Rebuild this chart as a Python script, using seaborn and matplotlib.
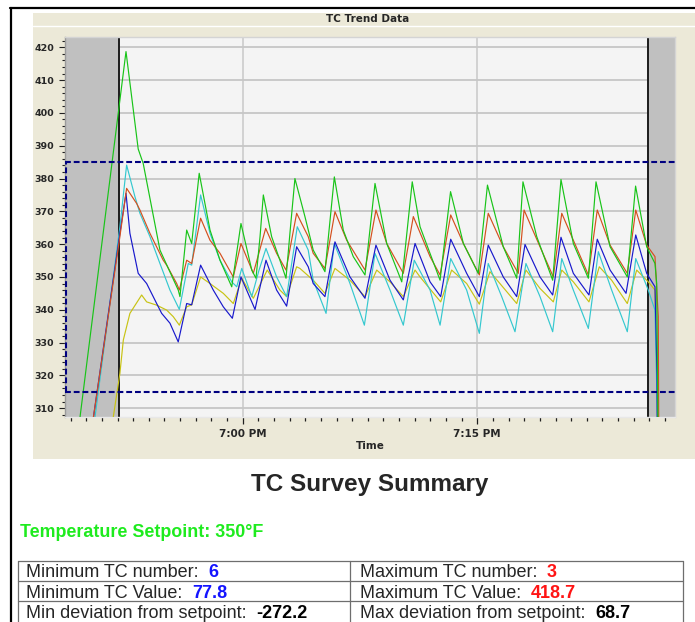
import matplotlib
matplotlib.use("Agg")
import matplotlib.pyplot as plt
from matplotlib.lines import Line2D
from matplotlib.patches import Rectangle
from matplotlib.ticker import FixedLocator, MultipleLocator
from matplotlib import font_manager
import pandas as pd
import seaborn as sns

# ---- thermocouple readings: minutes after 6:45 PM, temperature in °F ----
tc3_time = [3.96, 7.54, 8.32, 8.64, 9.71, 10.88, 10.99, 11.42, 11.74, 12.22, 12.91, 13.55, 14.30, 14.89,
            15.58, 15.85, 16.11, 16.32, 16.85, 17.38, 17.77, 18.02, 18.34, 18.98, 19.51, 20.26, 20.86,
            21.43, 22.07, 22.82, 23.46, 24.21, 25.17, 25.84, 26.34, 27.62, 28.29, 29.11, 30.06, 30.65,
            31.66, 32.52, 32.92, 33.80, 34.82, 35.35, 36.14, 37.10, 37.59, 38.49, 39.59, 40.12, 40.83,
            41.36, 41.47, 41.81]
tc3_temp = [283, 418.7, 389.0, 384.6, 358.2, 346.0, 344.0, 364.3, 360.2, 381.6, 364.3, 355.1, 347.0, 366.3,
            352.1, 349.6, 362.3, 375.0, 362.3, 355.1, 349.6, 363.3, 380.0, 368.4, 358.2, 351.6, 380.5,
            364.3, 356.2, 350.6, 378.5, 360.2, 348.5, 379.0, 365.3, 349.0, 376.0, 360.2, 351.1, 378.0,
            359.2, 349.6, 379.0, 362.3, 349.0, 379.7, 360.2, 349.6, 379.0, 359.2, 350.0, 377.7, 359.2,
            354.1, 348.0, 160.0]

tc1_time = [4.60, 5.45, 7.15, 7.58, 8.22, 8.43, 9.07, 9.92, 10.14, 10.78, 10.95, 11.42, 11.74, 11.95,
            12.31, 12.91, 13.55, 14.40, 14.89, 15.68, 16.47, 17.17, 17.77, 18.45, 19.19, 19.51, 20.26,
            20.90, 21.65, 22.82, 23.52, 24.21, 25.27, 25.91, 26.98, 27.62, 28.30, 29.11, 30.13, 30.70,
            31.66, 32.62, 32.99, 34.01, 34.86, 35.40, 36.14, 37.10, 37.67, 38.49, 39.59, 40.13, 40.83,
            41.36, 41.57, 41.75]
tc1_temp = [279, 307, 362.3, 377.0, 372.4, 370.4, 363.3, 355.1, 353.6, 348.0, 346.0, 355.1, 354.1, 359.2,
            367.9, 361.2, 357.2, 350.0, 360.2, 351.1, 364.8, 357.2, 352.1, 369.4, 362.3, 357.2, 352.6,
            369.9, 361.2, 352.1, 370.4, 360.2, 351.1, 368.4, 356.2, 350.6, 368.9, 360.2, 350.6, 369.4,
            359.2, 351.1, 370.4, 359.2, 350.0, 369.4, 361.2, 350.6, 370.4, 359.7, 351.1, 370.4, 359.7,
            356.2, 337.9, 140.0]

tc2_time = [4.72, 5.56, 7.15, 7.58, 8.11, 8.43, 9.07, 9.71, 10.35, 10.95, 11.52, 11.74, 12.31, 12.91,
            13.55, 14.30, 14.62, 14.94, 15.58, 16.04, 16.49, 17.17, 17.81, 18.49, 19.19, 19.51, 20.33,
            20.86, 21.86, 22.78, 23.46, 24.42, 25.27, 25.97, 26.98, 27.62, 28.30, 29.32, 30.13, 30.70,
            31.56, 32.41, 33.11, 34.01, 34.82, 35.40, 36.14, 37.10, 37.74, 38.59, 39.59, 40.13, 40.93,
            41.36, 41.55, 41.68]
tc2_temp = [276, 307.4, 365.3, 384.1, 374.5, 369.4, 362.3, 354.1, 346.0, 340.1, 354.1, 353.6, 375.0, 363.3,
            355.1, 348.5, 347.0, 352.6, 344.0, 352.0, 358.7, 350.0, 344.0, 365.3, 358.2, 349.0, 338.9,
            360.2, 348.0, 335.3, 357.2, 346.0, 335.3, 355.1, 346.0, 335.3, 355.6, 346.0, 332.8, 354.1,
            344.0, 333.3, 354.1, 344.0, 333.3, 355.6, 346.0, 334.3, 357.7, 346.0, 333.3, 355.6, 346.0,
            339.9, 300.0, 110.0]

tc6_time = [4.60, 5.45, 7.15, 7.54, 7.79, 8.32, 8.86, 9.50, 9.82, 10.35, 10.88, 11.42, 11.74, 12.31,
            13.12, 13.76, 14.34, 14.89, 15.79, 16.49, 17.17, 17.81, 18.45, 19.19, 19.51, 20.26, 20.90,
            21.86, 22.82, 23.52, 24.42, 25.27, 26.02, 26.98, 27.66, 28.30, 29.32, 30.13, 30.70, 31.66,
            32.52, 33.05, 34.01, 34.82, 35.35, 36.14, 37.14, 37.67, 38.49, 39.51, 40.13, 40.83, 41.36,
            41.49, 41.70]
tc6_temp = [280, 307, 363.3, 375.5, 363.3, 351.1, 348.0, 341.9, 338.9, 335.9, 330.2, 341.9, 341.5, 353.6,
            346.0, 340.9, 337.4, 350.0, 340.1, 355.1, 346.0, 341.1, 359.2, 353.1, 348.0, 344.0, 360.7,
            350.0, 343.5, 359.7, 349.0, 343.0, 360.2, 348.5, 344.0, 361.5, 351.1, 344.0, 359.7, 350.0,
            344.0, 359.9, 350.0, 344.5, 362.1, 351.1, 344.5, 361.5, 352.1, 345.0, 362.8, 351.1, 347.0,
            320.0, 77.8]

tc4_time = [6.26, 6.73, 7.15, 7.37, 7.79, 8.54, 8.86, 9.50, 10.14, 10.56, 10.95, 11.42, 11.74, 12.31,
            12.91, 13.76, 14.40, 14.94, 15.68, 16.57, 17.38, 17.81, 18.45, 18.66, 19.51, 20.26, 20.90,
            21.86, 22.82, 23.57, 24.42, 25.27, 26.02, 26.34, 27.66, 28.36, 29.32, 30.13, 30.81, 32.52,
            33.11, 34.01, 34.86, 35.40, 36.14, 37.14, 37.80, 38.59, 39.59, 40.19, 40.93, 41.36, 41.55,
            41.68]
tc4_temp = [293, 307.4, 320.6, 330.8, 338.9, 344.5, 342.4, 341.4, 339.9, 337.9, 335.3, 340.9, 341.5, 350.0,
            348.0, 345.0, 341.9, 349.6, 343.5, 352.1, 346.0, 344.0, 353.1, 352.6, 349.0, 345.0, 352.6,
            349.0, 344.0, 352.1, 348.5, 344.0, 352.1, 350.0, 342.4, 352.1, 348.0, 341.7, 351.6, 341.9,
            352.1, 346.5, 342.4, 352.1, 348.5, 342.4, 353.1, 349.0, 341.9, 352.1, 348.5, 346.0, 300.0,
            130.0]

series = {
    "TC 4": (tc4_time, tc4_temp),
    "TC 2": (tc2_time, tc2_temp),
    "TC 6": (tc6_time, tc6_temp),
    "TC 1": (tc1_time, tc1_temp),
    "TC 3": (tc3_time, tc3_temp),
}
palette = {"TC 4": "#c8c314", "TC 2": "#34c8cf", "TC 6": "#1818cc",
           "TC 1": "#d4501e", "TC 3": "#18c418"}

SETPOINT = 350.0
TOLERANCE = 35.0
soak_window = (7.1, 40.93)
x_limits = (3.64, 42.64)
y_limits = (307.4, 423.05)
y_ticks = list(range(310, 421, 10))
x_tick_minutes = [15, 30]
x_tick_labels = ["7:00 PM", "7:15 PM"]

rows = []
for name, (t, v) in series.items():
    for ti, vi in zip(t, v):
        rows.append({"minute": ti, "temp": vi, "tc": name})
df = pd.DataFrame(rows)

# ---- figure in pixel units ----
W, H = 695, 622
def fx(px):
    return px / W
def fy(py):
    return 1 - py / H

sns.set_style("white")
plt.rcParams["font.family"] = ["DejaVu Sans"]

fig = plt.figure(figsize=(W / 100, H / 100), dpi=100, facecolor="white")

# window chrome around the trend chart
fig.add_artist(Rectangle((fx(33), fy(459)), fx(695) - fx(33), fy(13) - fy(459),
                         transform=fig.transFigure, facecolor="#ECE9D8", edgecolor="none", zorder=-3))
fig.add_artist(Line2D([fx(33), 1], [fy(25.5), fy(25.5)], transform=fig.transFigure,
                      color="white", lw=1.0, zorder=-2))
fig.add_artist(Line2D([fx(10), 1], [fy(8), fy(8)], transform=fig.transFigure,
                      color="black", lw=1.6, zorder=-2))
fig.add_artist(Line2D([fx(11), fx(11)], [fy(8), 0], transform=fig.transFigure,
                      color="black", lw=1.6, zorder=-2))
fig.text(fx(367.5), fy(19.5), "TC Trend Data", ha="center", va="center",
         fontsize=7.5, fontweight="bold")

ax = fig.add_axes([fx(65), fy(416.7), fx(675) - fx(65), fy(37.3) - fy(416.7)])
ax.set_facecolor("#F4F4F4")
ax.set_axisbelow(True)

# warm-up and cool-down zones outside the soak window
ax.axvspan(x_limits[0], soak_window[0], color="#C0C0C0", lw=0, zorder=1)
ax.axvspan(soak_window[1], x_limits[1], color="#C0C0C0", lw=0, zorder=1)
for xv in soak_window:
    ax.axvline(xv, color="#1c1c1c", lw=1.4, zorder=2)

sns.lineplot(data=df, x="minute", y="temp", hue="tc", hue_order=list(series.keys()),
             palette=palette, estimator=None, sort=False, lw=0.85, legend=False, ax=ax, zorder=3)

# tolerance band around the setpoint
band_style = dict(color="#000080", lw=1.5, ls=(0, (2.8, 1.4)), zorder=4)
ax.axhline(SETPOINT + TOLERANCE, **band_style)
ax.axhline(SETPOINT - TOLERANCE, **band_style)
ax.vlines(x_limits[0] + 0.08, SETPOINT - TOLERANCE, SETPOINT + TOLERANCE, **band_style)

ax.set_xlim(*x_limits)
ax.set_ylim(*y_limits)

ax.set_yticks(y_ticks, labels=[str(v) for v in y_ticks], fontsize=6.8, fontweight="bold")
ax.yaxis.set_minor_locator(MultipleLocator(2))
ax.xaxis.set_major_locator(FixedLocator(x_tick_minutes))
ax.set_xticks(x_tick_minutes, labels=x_tick_labels, fontsize=7.5, fontweight="bold")
ax.xaxis.set_minor_locator(MultipleLocator(1))
ax.tick_params(which="both", left=True, bottom=True, right=False, top=False, direction="out")
ax.tick_params(axis="y", which="major", length=4.3, width=0.8, pad=3.4, color="#202020")
ax.tick_params(axis="y", which="minor", length=2.4, width=0.8, color="#202020")
ax.tick_params(axis="x", which="major", length=5.0, width=0.9, pad=4.0, color="#202020")
ax.tick_params(axis="x", which="minor", length=2.6, width=0.9, color="#202020")
ax.grid(axis="y", which="major", color="#C6C6C6", lw=1.3)
ax.grid(axis="x", which="major", color="#CCCCCC", lw=1.2)
ax.set_xlabel("Time", fontsize=7.5, fontweight="bold", labelpad=1.5)
ax.set_ylabel("")
for side, col in (("left", "#9A9A9A"), ("top", "#D4D4D4"), ("right", "#D4D4D4"), ("bottom", "#E8E8E8")):
    ax.spines[side].set_color(col)
    ax.spines[side].set_linewidth(1.0)

# ---- survey summary below the chart ----
def installed(name):
    try:
        font_manager.findfont(font_manager.FontProperties(family=name), fallback_to_default=False)
        return True
    except ValueError:
        return False

if installed("Liberation Sans Narrow"):
    fig.text(fx(370), fy(491), "TC Survey Summary", ha="center", va="baseline",
             family="Liberation Sans Narrow", fontweight="bold", fontsize=21)
else:
    fig.text(fx(370), fy(491), "TC Survey Summary", ha="center", va="baseline",
             family="Liberation Sans", fontweight="bold", fontsize=17.5)

fig.text(fx(19.5), fy(536.7), f"Temperature Setpoint: {SETPOINT:.0f}°F", ha="left", va="baseline",
         family="Liberation Sans", fontweight="bold", fontsize=12.9, color="#1EEB1E")

all_max = max((max(v), n) for n, (t, v) in series.items())
all_min = min((min(v), n) for n, (t, v) in series.items())
summary_rows = [
    ("Minimum TC number:", all_min[1].split()[-1], "#1414FF", "Maximum TC number:", all_max[1].split()[-1], "#FF1414"),
    ("Minimum TC Value:", f"{all_min[0]:.1f}", "#1414FF", "Maximum TC Value:", f"{all_max[0]:.1f}", "#FF1414"),
    ("Min deviation from setpoint:", f"{all_min[0] - SETPOINT:.1f}", "black",
     "Max deviation from setpoint:", f"{all_max[0] - SETPOINT:.1f}", "black"),
]

table_lines = dict(transform=fig.transFigure, color="#6E6E6E", lw=0.9)
for yl in (560.7, 581.2, 601.2):
    fig.add_artist(Line2D([fx(17.7), fx(683)], [fy(yl), fy(yl)], **table_lines))
for xl in (17.7, 350, 683):
    fig.add_artist(Line2D([fx(xl), fx(xl)], [fy(560.7), 0], **table_lines))

fig.canvas.draw()
renderer = fig.canvas.get_renderer()
text_style = dict(family="Liberation Sans", fontsize=13, va="baseline", ha="left")
baselines = (577.3, 597.7, 618.3)
for (l_lab, l_val, l_col, r_lab, r_val, r_col), base in zip(summary_rows, baselines):
    for lab, val, col, x0 in ((l_lab, l_val, l_col, 26.5), (r_lab, r_val, r_col, 360)):
        t = fig.text(fx(x0), fy(base), lab, **text_style)
        bb = t.get_window_extent(renderer)
        fig.text((bb.x1 + 9.5) / W, fy(base), val, color=col, fontweight="bold", **text_style)

fig.savefig("out.png", dpi=100, facecolor="white")
